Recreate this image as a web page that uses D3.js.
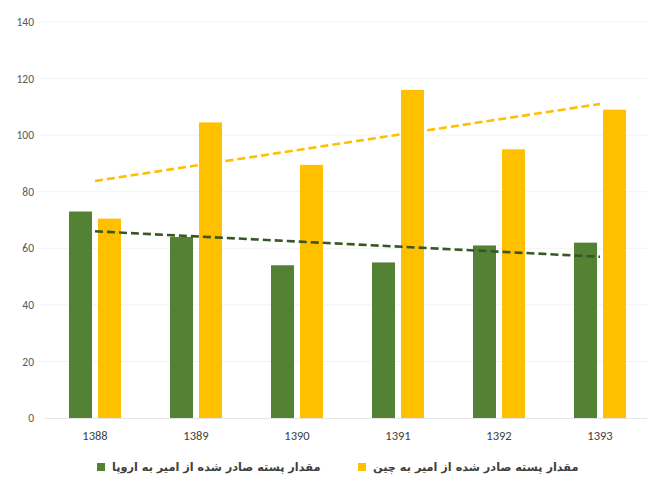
<!DOCTYPE html>
<html>
<head>
<meta charset="utf-8">
<script src="https://cdn.jsdelivr.net/npm/d3@7/dist/d3.min.js"></script>
<style>
  html, body { margin: 0; padding: 0; background: #fff; }
  svg { display: block; }
</style>
</head>
<body>
<div id="chart"></div>
<script>
// Pistachio exports from Amir, by year
const years = ["1388", "1389", "1390", "1391", "1392", "1393"];
const europeValues = [73, 64, 54, 55, 61, 62];
const chinaValues = [70.5, 104.5, 89.5, 116, 95, 109];
const yTicks = [0, 20, 40, 60, 80, 100, 120, 140];
const seriesNames = ["مقدار پسته صادر شده از امیر به اروپا", "مقدار پسته صادر شده از امیر به چین"];
const seriesKeys = ["europe", "china"];

const W = 647, H = 479;
const colors = { europe: "#548235", china: "#FFC000" };
const trendColors = { europe: "#385723", china: "#FFC000" };

const rows = years.map((y, i) => ({ year: y, europe: europeValues[i], china: chinaValues[i] }));

const svg = d3.select("#chart").append("svg").attr("width", W).attr("height", H);
svg.append("rect").attr("width", W).attr("height", H).attr("fill", "#fff");

const y = d3.scaleLinear().domain([0, 140]).range([418, 22]);
const x0 = d3.scaleBand().domain(years).range([44.5, 650.5]).paddingInner(0).paddingOuter(0);
const x1 = d3.scaleBand().domain(seriesKeys).range([24.5, x0.bandwidth() - 24.5]).paddingInner(6 / 29);

// gridlines
svg.append("g").selectAll("line").data(yTicks.slice(1)).join("line")
  .attr("x1", 38).attr("x2", W).attr("y1", d => y(d)).attr("y2", d => y(d))
  .attr("stroke", "#f3f3f3").attr("stroke-width", 1);

// y axis labels
const yAxis = d3.axisLeft(y).tickValues(yTicks).tickSize(0).tickPadding(0);
const gy = svg.append("g").attr("transform", "translate(34,0)").call(yAxis);
gy.select(".domain").remove();
gy.selectAll("text").attr("font-family", "Calibri, Carlito, 'Liberation Sans', Arial, sans-serif")
  .attr("font-size", 11.5).attr("fill", "#595959");

// bars
const groups = svg.append("g").selectAll("g").data(rows).join("g")
  .attr("transform", d => `translate(${x0(d.year)},0)`);
groups.selectAll("rect").data(d => seriesKeys.map(k => ({ key: k, value: d[k] }))).join("rect")
  .attr("x", d => x1(d.key)).attr("width", x1.bandwidth())
  .attr("y", d => y(d.value)).attr("height", d => y(0) - y(d.value))
  .attr("fill", d => colors[d.key]);

// baseline
svg.append("line").attr("x1", 44.5).attr("x2", W).attr("y1", y(0) + 0.5).attr("y2", y(0) + 0.5)
  .attr("stroke", "#e6e6e6");

// x axis labels
const xAxis = d3.axisBottom(x0).tickSize(0).tickPadding(0);
const gx = svg.append("g").attr("transform", `translate(0,${y(0) + 13})`).call(xAxis);
gx.select(".domain").remove();
gx.selectAll("text").attr("font-family", "Calibri, Carlito, 'Liberation Sans', Arial, sans-serif")
  .attr("font-size", 12.5).attr("fill", "#404040").attr("dy", "0.71em");

// linear trend lines (least squares over category index)
function fit(vals) {
  const n = vals.length;
  const mx = d3.mean(vals, (v, i) => i), my = d3.mean(vals);
  let sxy = 0, sxx = 0;
  vals.forEach((v, i) => { sxy += (i - mx) * (v - my); sxx += (i - mx) * (i - mx); });
  const b = sxy / sxx, a = my - b * mx;
  return [[0, a], [n - 1, a + b * (n - 1)]];
}
const center = i => x0(years[i]) + x0.bandwidth() / 2;
[["china", chinaValues], ["europe", europeValues]].forEach(([k, vals]) => {
  const pts = fit(vals);
  svg.append("path")
    .attr("d", d3.line().x(p => center(p[0])).y(p => y(p[1]))(pts))
    .attr("fill", "none").attr("stroke", trendColors[k])
    .attr("stroke-width", 2.6).attr("stroke-dasharray", "8,4");
});

// legend
const legend = [
  { key: "europe", name: seriesNames[0], x: 97 },
  { key: "china", name: seriesNames[1], x: 358 }
];
const lg = svg.append("g").selectAll("g").data(legend).join("g")
  .attr("transform", d => `translate(${d.x},467)`);
lg.append("rect").attr("x", 0).attr("y", -4).attr("width", 8).attr("height", 8)
  .attr("fill", d => colors[d.key]);
lg.append("text").attr("x", 15).attr("y", 0).attr("dy", "0.35em")
  .attr("font-family", "'DejaVu Sans', 'Noto Sans', sans-serif").attr("font-weight", "bold")
  .attr("font-size", 11.3).attr("fill", "#404040")
  .attr("text-anchor", "start")
  .text(d => d.name);
</script>
</body>
</html>
